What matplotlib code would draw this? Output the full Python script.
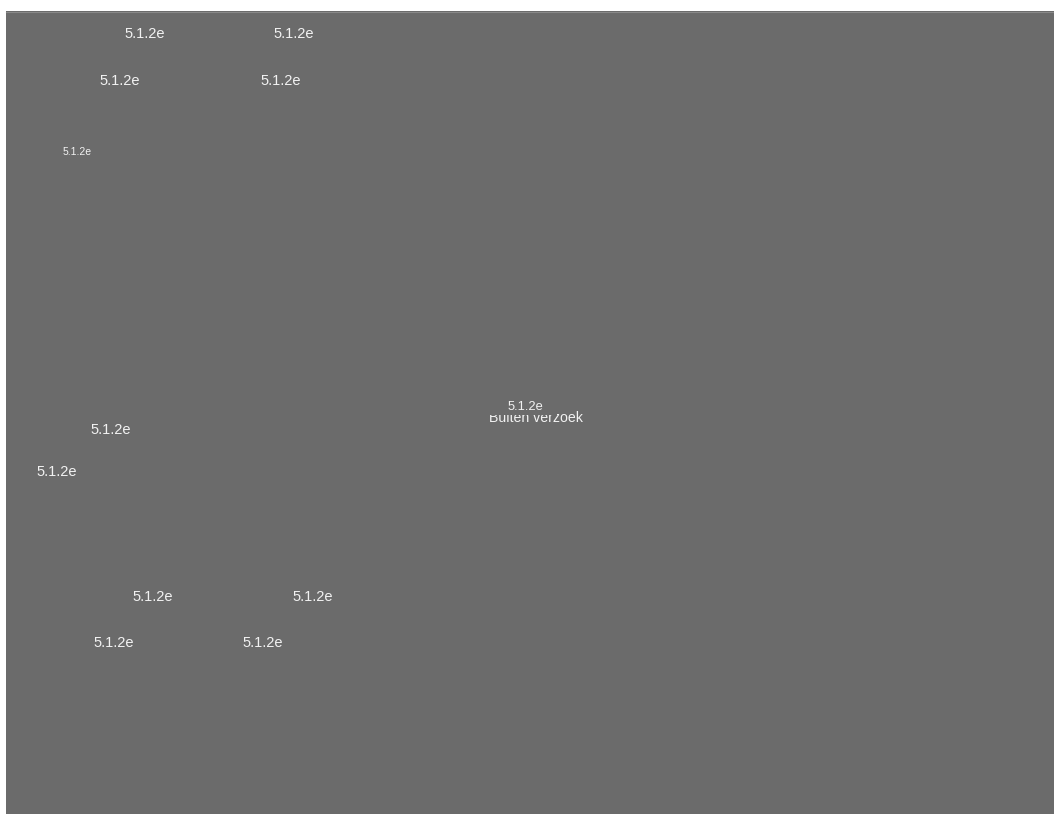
import matplotlib.pyplot as plt
from matplotlib.patches import Rectangle

# redaction labels on the page: (x, y, fontsize) in pixel coords
label_x = [145, 294, 120, 281, 77.5, 110.5, 57, 152.5, 312.5, 113.5, 263]
label_y = [34, 34, 81, 81, 152, 429.5, 472, 597, 597, 643, 643]
label_size = [10.5, 10.5, 10.5, 10.5, 7.5, 10.5, 10.5, 10.5, 10.5, 10.5, 10.5]
label_text = "5.1.2e"

# centre block: text partly covered by the redaction box
note_text = "Buiten verzoek"
note_pos = (536, 418)
mask_label_pos = (525, 406.5)

page_grey = "#6b6b6b"
text_col = "#f2f2f2"

fig = plt.figure(figsize=(10.54, 8.14), dpi=100)
ax = fig.add_axes([0, 0, 1, 1])
ax.set_xlim(0, 1054)
ax.set_ylim(814, 0)
ax.axis("off")

ax.add_patch(Rectangle((6, 11), 1048, 803, facecolor=page_grey, edgecolor="none"))
ax.plot([6, 1054], [11.5, 11.5], color="#8a8a8a", lw=0.8)

for x, y, s in zip(label_x, label_y, label_size):
    ax.text(x, y, label_text, color=text_col, fontsize=s, family="Liberation Sans",
            ha="center", va="center")

ax.text(note_pos[0], note_pos[1], note_text, color=text_col, fontsize=10.2,
        family="Liberation Sans", ha="center", va="center")
ax.add_patch(Rectangle((486, 398), 71, 16.5, facecolor=page_grey, edgecolor="none", zorder=3))
ax.text(mask_label_pos[0], mask_label_pos[1], label_text, color=text_col, fontsize=9.3,
        family="Liberation Sans", ha="center", va="center", zorder=4)

fig.savefig("out.png", dpi=100)
